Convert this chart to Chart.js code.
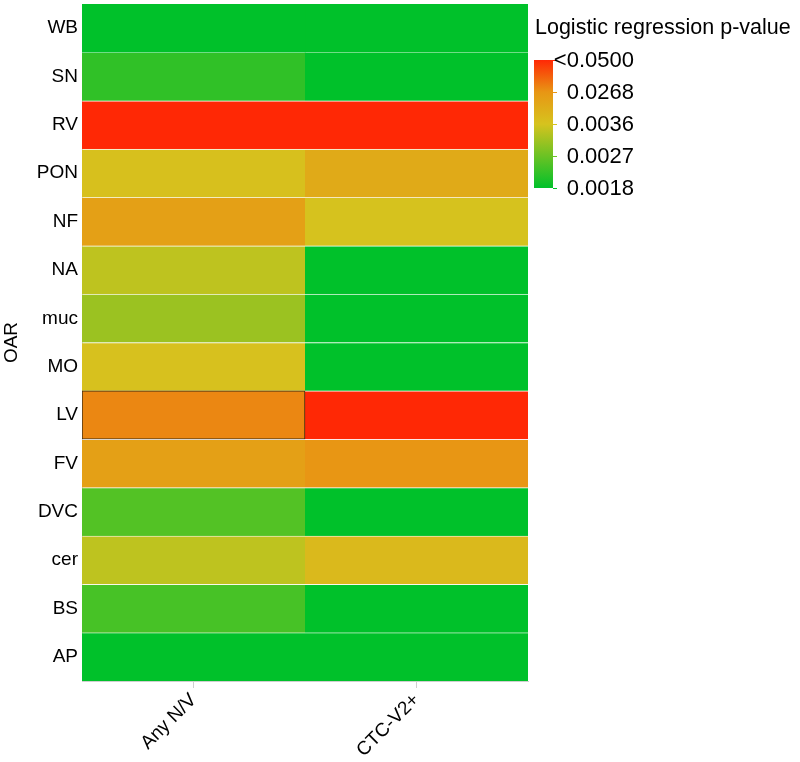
<!DOCTYPE html>
<html>
<head>
<meta charset="utf-8">
<title>OAR p-value heatmap</title>
<script src="https://cdn.jsdelivr.net/npm/chart.js@4"></script>
<style>
  html, body { margin: 0; padding: 0; background: #ffffff; }
  #wrap { width: 800px; height: 762px; }
</style>
</head>
<body>
<div id="wrap"><canvas id="heatChart" width="800" height="762"></canvas></div>
<script>
/* ================= DATA ================= */

const rows = ["WB", "SN", "RV", "PON", "NF", "NA", "muc", "MO", "LV", "FV", "DVC", "cer", "BS", "AP"];
const cols = ["Any N/V", "CTC-V2+"];

// p-values
const anyNV = [0.0018, 0.0022, 0.0500, 0.0052, 0.0216, 0.0034, 0.0031, 0.0045, 0.0300, 0.0216, 0.0025, 0.0034, 0.0024, 0.0018];
const ctcV2 = [0.0018, 0.0018, 0.0500, 0.0165, 0.0040, 0.0018, 0.0018, 0.0018, 0.0500, 0.0268, 0.0018, 0.0088, 0.0018, 0.0018];

const legendTicks = [0.0018, 0.0027, 0.0036, 0.0268, 0.0500];
const legendLabels = ["0.0018", "0.0027", "0.0036", "0.0268", "<0.0500"];
const legendTitle = "Logistic regression p-value";

const highlightRow = "LV";
const highlightCol = "Any N/V";

const FONT = "Helvetica, Arial, 'Liberation Sans', sans-serif";

/* ================= COLOUR SCALE ================= */

// colour stops along the legend bar (0 = bottom, 1 = top)
const stops = [
    [0.00, [0, 193, 42]],
    [0.50, [214, 195, 30]],
    [0.75, [232, 150, 20]],
    [1.00, [255, 40, 5]]
];

function scalePos(p) {
    if (p <= legendTicks[0]) return 0;
    for (let i = 1; i < legendTicks.length; i++) {
        if (p <= legendTicks[i]) {
            const t = (p - legendTicks[i - 1]) / (legendTicks[i] - legendTicks[i - 1]);
            return (i - 1 + t) / (legendTicks.length - 1);
        }
    }
    return 1;
}

function colorAt(pos) {
    for (let i = 1; i < stops.length; i++) {
        if (pos <= stops[i][0]) {
            const a = stops[i - 1], b = stops[i];
            const t = (pos - a[0]) / (b[0] - a[0]);
            const c = a[1].map((v, k) => Math.round(v + (b[1][k] - v) * t));
            return `rgb(${c[0]},${c[1]},${c[2]})`;
        }
    }
    const l = stops[stops.length - 1][1];
    return `rgb(${l[0]},${l[1]},${l[2]})`;
}

function colorFor(p) {
    return colorAt(scalePos(p));
}

/* ================= LEGEND PLUGIN ================= */

const colorBarLegend = {
    id: "colorBarLegend",
    afterDraw(chart) {
        const ctx = chart.ctx;
        const x = 534, top = 60, bottom = 188, w = 19;

        ctx.save();
        ctx.fillStyle = "#000";
        ctx.font = `21.5px ${FONT}`;
        ctx.textAlign = "left";
        ctx.textBaseline = "alphabetic";
        ctx.fillText(legendTitle, 535, 34);

        const grad = ctx.createLinearGradient(0, bottom, 0, top);
        stops.forEach(s => grad.addColorStop(s[0], colorAt(s[0])));
        ctx.fillStyle = grad;
        ctx.fillRect(x, top, w, bottom - top);

        ctx.font = `22px ${FONT}`;
        ctx.textAlign = "right";
        ctx.textBaseline = "middle";
        legendLabels.forEach((lab, i) => {
            const pos = i / (legendLabels.length - 1);
            const y = bottom - pos * (bottom - top);
            ctx.strokeStyle = colorAt(pos);
            ctx.lineWidth = 1;
            ctx.beginPath();
            ctx.moveTo(x + w, y + 0.5);
            ctx.lineTo(x + w + 4, y + 0.5);
            ctx.stroke();
            ctx.fillStyle = "#000";
            ctx.fillText(lab, 634, y + 1);
        });
        ctx.restore();
    }
};

/* ================= CHART ================= */

function makeDataset(colIdx, values) {
    return {
        label: cols[colIdx],
        data: values.map(() => [colIdx, colIdx + 1]),
        backgroundColor: values.map(colorFor),
        borderColor: rows.map(r => (r === highlightRow && cols[colIdx] === highlightCol) ? "#3b2a12" : "rgba(255,255,255,0.25)"),
        borderWidth: rows.map((r, i) => (r === highlightRow && cols[colIdx] === highlightCol)
            ? 1
            : { top: i === 0 ? 0 : 1, bottom: 0, left: 0, right: 0 }),
        borderSkipped: false,
        grouped: false,
        barPercentage: 1,
        categoryPercentage: 1
    };
}

new Chart(document.getElementById("heatChart"), {
    type: "bar",
    data: {
        labels: rows,
        datasets: [makeDataset(0, anyNV), makeDataset(1, ctcV2)]
    },
    options: {
        indexAxis: "y",
        responsive: false,
        animation: false,
        layout: { padding: { left: 0, right: 272, top: 4, bottom: 0 } },
        plugins: {
            legend: { display: false },
            tooltip: { enabled: false }
        },
        scales: {
            y: {
                type: "category",
                grid: { display: false, drawTicks: false },
                border: { display: true, color: "#cfcfcf", width: 1 },
                ticks: { color: "#000", font: { family: FONT, size: 19 }, padding: 4 },
                title: { display: true, text: "OAR", color: "#000", font: { family: FONT, size: 19 }, padding: 0 },
                afterFit(scale) {
                    scale.width = 82;
                    scale.paddingTop = 0;
                    scale.paddingBottom = 0;
                }
            },
            x: {
                type: "linear",
                min: 0,
                max: cols.length,
                afterBuildTicks(scale) {
                    scale.ticks = cols.map((c, i) => ({ value: i + 0.5 }));
                },
                grid: { drawOnChartArea: false, drawTicks: true, tickLength: 7, color: "#cfcfcf" },
                border: { display: true, color: "#cfcfcf", width: 1 },
                ticks: {
                    color: "#000",
                    font: { family: FONT, size: 19 },
                    maxRotation: 45,
                    minRotation: 45,
                    padding: 1,
                    callback: (v) => cols[Math.floor(v)]
                },
                afterFit(scale) {
                    scale.height = 81;
                    scale.paddingLeft = 0;
                    scale.paddingRight = 0;
                }
            }
        }
    },
    plugins: [colorBarLegend]
});
</script>
</body>
</html>
